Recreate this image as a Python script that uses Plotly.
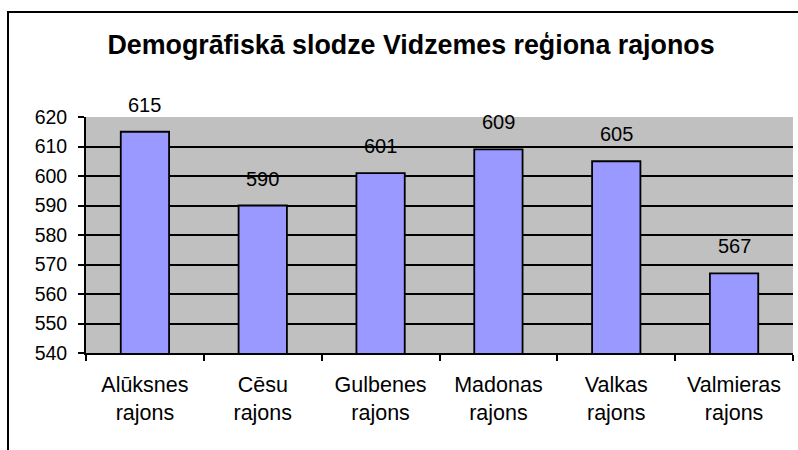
import plotly.graph_objects as go

categories = ["Alūksnes<br>rajons", "Cēsu<br>rajons", "Gulbenes<br>rajons",
              "Madonas<br>rajons", "Valkas<br>rajons", "Valmieras<br>rajons"]
values = [615, 590, 601, 609, 605, 567]
title = "Demogrāfiskā slodze Vidzemes reģiona rajonos"

FONT = "Liberation Sans, Arial, sans-serif"

fig = go.Figure()
fig.add_trace(go.Bar(
    x=categories, y=values,
    marker=dict(color="#9999FF", line=dict(color="black", width=1.8)),
    width=0.41, hoverinfo="x+y",
))

for c, v in zip(categories, values):
    fig.add_annotation(x=c, y=v, text=str(v), showarrow=False,
                       yanchor="bottom", yshift=14,
                       font=dict(family=FONT, size=20, color="black"))

fig.update_layout(
    width=798, height=450,
    margin=dict(l=86, r=5, t=117, b=97),
    paper_bgcolor="white", plot_bgcolor="#C0C0C0",
    showlegend=False,
    title=dict(text="<b>" + title + "</b>", xref="paper", x=(411 - 86) / 707, xanchor="center",
               y=1 - 45 / 450, yanchor="middle",
               font=dict(family=FONT, size=26.8, color="black")),
    font=dict(family=FONT, size=19.5, color="black"),
)
fig.update_yaxes(range=[540, 620], dtick=10, showgrid=True, gridcolor="black", gridwidth=1.8,
                 showline=True, linecolor="black", linewidth=1.8,
                 ticks="outside", ticklen=6, tickcolor="black", tickwidth=1.5,
                 zeroline=False, tickfont=dict(size=19.5), ticklabelstandoff=7)
fig.update_xaxes(showline=True, linecolor="black", linewidth=1.8,
                 ticks="outside", tickson="boundaries", ticklen=6, tickcolor="black", tickwidth=1.5,
                 tickfont=dict(size=21.5), showgrid=False, ticklabelstandoff=11)

fig.add_shape(type="rect", xref="paper", yref="paper",
              x0=(8 - 86) / 707, x1=1.2, y0=1 + (117 - 12) / 236, y1=-0.8,
              line=dict(color="black", width=2), fillcolor="rgba(0,0,0,0)", layer="above")

fig.write_html("out.html", config={"displayModeBar": False},
               post_script="document.body.style.margin='0';")
